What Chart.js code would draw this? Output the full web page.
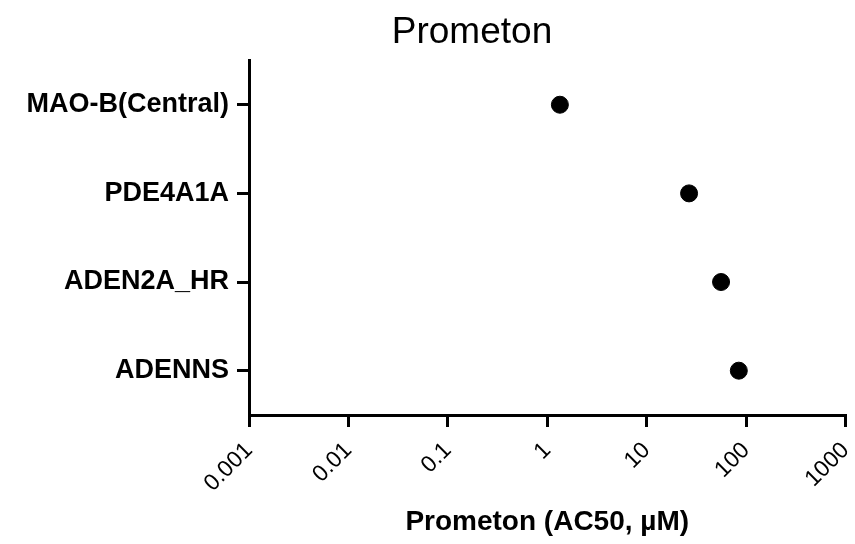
<!DOCTYPE html>
<html>
<head>
<meta charset="utf-8">
<title>Prometon</title>
<script src="https://cdn.jsdelivr.net/npm/chart.js@4/dist/chart.umd.min.js"></script>
<style>
  html, body { margin: 0; padding: 0; background: #fff; }
  #wrap { width: 855px; height: 544px; }
</style>
</head>
<body>
<div id="wrap"><canvas id="ac50Chart" width="855" height="544"></canvas></div>
<script>
const assays = ['MAO-B(Central)', 'PDE4A1A', 'ADEN2A_HR', 'ADENNS'];
const ac50Values = [1.34, 26.7, 56, 84.5];
const xTicks = [0.001, 0.01, 0.1, 1, 10, 100, 1000];

const font = 'Liberation Sans, Arial, sans-serif';

// the reference title is not centred on the canvas, nudge its box
const titleShift = {
  id: 'titleShift',
  afterLayout(chart) {
    chart.titleBlock.left = 89;
  },
};

const ctx = document.getElementById('ac50Chart').getContext('2d');
new Chart(ctx, {
  type: 'scatter',
  data: {
    datasets: [{
      label: 'Prometon',
      data: assays.map((a, i) => ({ x: ac50Values[i], y: a })),
      backgroundColor: '#000',
      borderColor: '#000',
      borderWidth: 1,
      pointRadius: 8.5,
      pointHoverRadius: 8.5,
    }],
  },
  plugins: [titleShift],
  options: {
    responsive: false,
    animation: false,
    layout: { padding: 0 },
    plugins: {
      legend: { display: false },
      tooltip: { enabled: false },
      title: {
        display: true,
        text: 'Prometon',
        color: '#000',
        font: { family: font, size: 37, weight: 'normal' },
        padding: { top: 11, bottom: 5 },
      },
    },
    scales: {
      x: {
        type: 'logarithmic',
        min: 0.001,
        max: 1000,
        afterBuildTicks: (scale) => {
          scale.ticks = xTicks.map(v => ({ value: v }));
        },
        afterFit: (scale) => {
          // keep the plot box where the reference has it
          scale.height = 129;
          scale.paddingRight = 4;
        },
        ticks: {
          color: '#000',
          font: { family: font, size: 23 },
          maxRotation: 45,
          minRotation: 45,
          padding: 10,
          callback: (v) => String(v),
        },
        grid: {
          display: true,
          drawOnChartArea: false,
          drawTicks: true,
          tickLength: 12,
          color: '#000',
          lineWidth: 3,
        },
        border: { display: true, color: '#000', width: 3 },
        title: {
          display: true,
          text: 'Prometon (AC50, µM)',
          color: '#000',
          font: { family: font, size: 28, weight: 'bold' },
          padding: { top: 4, bottom: 5 },
        },
      },
      y: {
        type: 'category',
        labels: assays,
        offset: true,
        afterFit: (scale) => { scale.width = 249; },
        ticks: {
          color: '#000',
          font: { family: font, size: 27, weight: 'bold' },
          padding: 8,
        },
        grid: {
          display: true,
          drawOnChartArea: false,
          drawTicks: true,
          tickLength: 12,
          color: '#000',
          lineWidth: 3,
        },
        border: { display: true, color: '#000', width: 3 },
      },
    },
  },
});
</script>
</body>
</html>
